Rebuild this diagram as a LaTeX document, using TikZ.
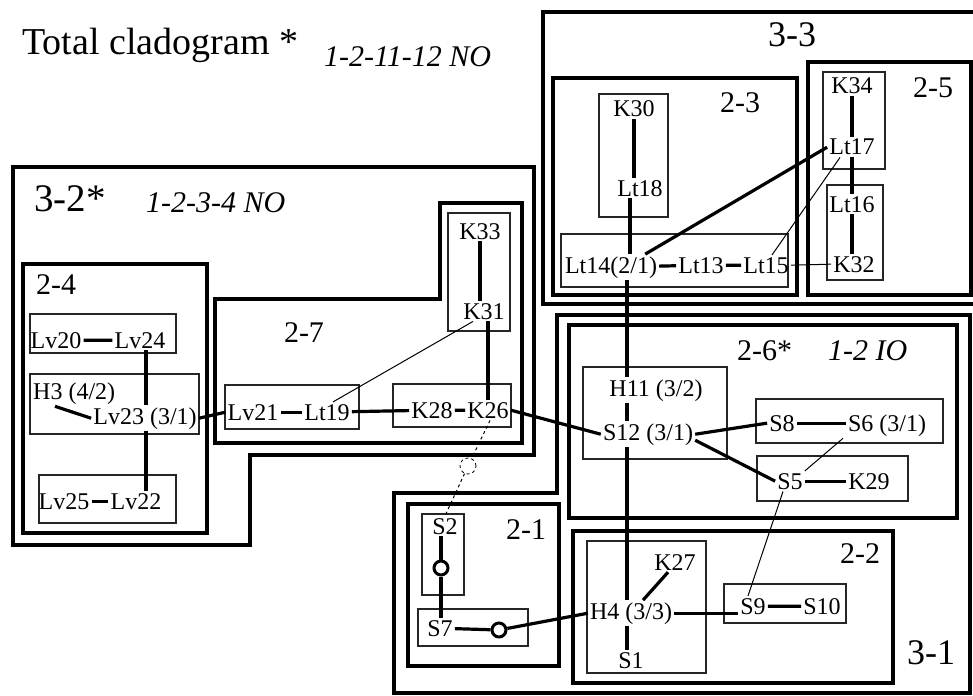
\documentclass[tikz,border=0pt]{standalone}
\usepackage{fontspec}
\setmainfont{Liberation Serif}

\begin{document}
\begin{tikzpicture}[x=1pt, y=-1pt,
    taxon/.style={inner sep=2pt, anchor=base, font=\fontsize{24}{26}\selectfont},
    tag/.style={inner sep=0pt, anchor=base, font=\fontsize{30}{32}\selectfont},
    bigtag/.style={inner sep=0pt, anchor=base, font=\fontsize{36}{38}\selectfont},
    note/.style={inner sep=0pt, anchor=base west, font=\fontsize{30}{32}\selectfont\itshape},
    grp/.style={draw=black!85, line width=1.2pt},
    clade/.style={draw, line width=3.5pt, line join=miter},
    bond/.style={line width=3.2pt},
    link/.style={line width=1pt},
    ring/.style={circle, draw, line width=3pt, minimum size=14pt, inner sep=0pt},
]
    \useasboundingbox (0,0) rectangle (973,695);

    % title
    \node[inner sep=0pt, anchor=base west, font=\fontsize{38}{40}\selectfont] (title) at (22,55) {Total cladogram *};
    \node[note] (titlenote) at (324,67) {1-2-11-12 NO};

    % thick clade outlines
    \draw[clade] (976,12) -- (543,12) -- (543,304) -- (976,304);
    \draw[clade] (553,78) rectangle (797,295);
    \draw[clade] (808,62) rectangle (971,295);
    \draw[clade] (13,167) -- (534,167) -- (534,455) -- (250,455) -- (250,545) -- (13,545) -- cycle;
    \draw[clade] (23,264) rectangle (207,533);
    \draw[clade] (215,299) -- (440,299) -- (440,203) -- (522,203) -- (522,443) -- (215,443) -- cycle;
    \draw[clade] (557,315) -- (970,315) -- (970,693) -- (394,693) -- (394,493) -- (557,493) -- cycle;
    \draw[clade] (569,325) rectangle (957,518);
    \draw[clade] (408,504) rectangle (559,666);
    \draw[clade] (573,531) rectangle (893,683);

    % clade names
    \node[bigtag] (n33) at (792,47) {3-3};
    \node[tag] (n23) at (740,113) {2-3};
    \node[tag] (n25) at (933,98) {2-5};
    \node[bigtag, anchor=base west, font=\fontsize{39}{41}\selectfont] (n32) at (34,211) {3-2*};
    \node[note] (n32note) at (146,212) {1-2-3-4 NO};
    \node[tag, anchor=base west] (n24) at (36,294) {2-4};
    \node[tag] (n27) at (304,342) {2-7};
    \node[tag, anchor=base west] (n26) at (737,360) {2-6*};
    \node[note] (n26note) at (828,360) {1-2 IO};
    \node[tag] (n21) at (526,539) {2-1};
    \node[tag] (n22) at (860,563) {2-2};
    \node[bigtag] (n31) at (931,664) {3-1};

    % thin group boxes
    \draw[grp] (599,94) rectangle (668,217);
    \draw[grp] (561,234) rectangle (788,287);
    \draw[grp] (823,72) rectangle (885,169);
    \draw[grp] (827,185) rectangle (883,280);
    \draw[grp] (448,213) rectangle (510,331);
    \draw[grp] (30,314) rectangle (176,353);
    \draw[grp] (30,374) rectangle (199,434);
    \draw[grp] (39,475) rectangle (176,523);
    \draw[grp] (225,385) rectangle (359,429);
    \draw[grp] (393,384) rectangle (511,427);
    \draw[grp] (583,367) rectangle (727,459);
    \draw[grp] (756,399) rectangle (943,443);
    \draw[grp] (757,456) rectangle (908,501);
    \draw[grp] (422,514) rectangle (464,595);
    \draw[grp] (418,609) rectangle (528,646);
    \draw[grp] (587,541) rectangle (706,673);
    \draw[grp] (724,584) rectangle (846,623);

    % taxa, upper right
    \node[taxon] (k30) at (634,117) {K30};
    \node[taxon] (lt18) at (640,196) {Lt18};
    \node[taxon] (lt14) at (611,273) {Lt14(2/1)};
    \node[taxon] (lt13) at (701,273) {Lt13};
    \node[taxon] (lt15) at (766,273) {Lt15};
    \node[taxon] (k34) at (852,94) {K34};
    \node[taxon] (lt17) at (852,155) {Lt17};
    \node[taxon] (lt16) at (852,212) {Lt16};
    \node[taxon] (k32) at (854,272) {K32};

    % taxa, left
    \node[taxon] (lv20) at (56,348) {Lv20};
    \node[taxon] (lv24) at (140,348) {Lv24};
    \node[taxon, anchor=base west] (h3) at (31,399) {H3 (4/2)};
    \node[taxon] (lv23) at (145,424) {Lv23 (3/1)};
    \node[taxon] (lv25) at (64,509) {Lv25};
    \node[taxon] (lv22) at (136,509) {Lv22};
    \node[taxon] (lv21) at (253,420) {Lv21};
    \node[taxon] (lt19) at (327,420) {Lt19};
    \node[taxon] (k28) at (432,418) {K28};
    \node[taxon] (k26) at (488,418) {K26};
    \node[taxon] (k33) at (480,239) {K33};
    \node[taxon] (k31) at (484,319) {K31};

    % taxa, lower right
    \node[taxon] (h11) at (656,396) {H11 (3/2)};
    \node[taxon] (s12) at (648,440) {S12 (3/1)};
    \node[taxon] (s8) at (782,431) {S8};
    \node[taxon] (s6) at (887,431) {S6 (3/1)};
    \node[taxon] (s5) at (790,489) {S5};
    \node[taxon] (k29) at (869,489) {K29};
    \node[taxon] (s2) at (445,534) {S2};
    \node[taxon] (s7) at (440,636) {S7};
    \node[taxon] (h4) at (631,619) {H4 (3/3)};
    \node[taxon] (k27) at (675,570) {K27};
    \node[taxon] (s1) at (631,668) {S1};
    \node[taxon] (s9) at (753,614) {S9};
    \node[taxon] (s10) at (822,614) {S10};

    % rings on the S2-S7 branch
    \node[ring] (c1) at (441,568) {};
    \node[ring] (c2) at (499,630) {};
    \node[circle, draw, dashed, line width=0.8pt, minimum size=16pt, inner sep=0pt] (cd) at (468,466) {};

    % bonds, upper right
    \draw[bond] (k30.south) -- (k30.south |- lt18.north);
    \draw[bond] ([xshift=-10]lt18.south) -- ([xshift=-10]lt18.south |- lt14.north);
    \draw[bond] (lt14) -- (lt13);
    \draw[bond] (lt13) -- (lt15);
    \draw[bond] ([xshift=-14]lt14.north east) -- (lt17.west);
    \draw[link] ([xshift=6]lt15.north) -- ([xshift=-12]lt17.south);
    \draw[link] (lt15.east) -- (k32.west);
    \draw[bond] (k34.south) -- (k34.south |- lt17.north);
    \draw[bond] (lt17.south) -- (lt16.north);
    \draw[bond] (lt16.south) -- (lt16.south |- k32.north);
    \draw[bond] ([xshift=16]lt14.south) -- ([xshift=16]lt14.south |- h11.north);

    % bonds, left
    \draw[bond] (lv20) -- (lv24);
    \draw[bond] ([xshift=6]lv24.south) -- ([xshift=6]lv24.south |- lv23.north);
    \draw[bond] ([xshift=24]h3.south west) -- (lv23.west);
    \draw[bond] ([xshift=1]lv23.south) -- ([xshift=1]lv23.south |- lv22.north);
    \draw[bond] (lv25) -- (lv22);
    \draw[bond] (lv23.east) -- (lv21.west);
    \draw[bond] (lv21) -- (lt19);
    \draw[bond] (lt19) -- (k28);
    \draw[bond] (k28) -- (k26);
    \draw[bond] (k33.south) -- (k33.south |- k31.north);
    \draw[bond] ([xshift=4]k31.south) -- ([xshift=4]k31.south |- k26.north);
    \draw[link] ([xshift=-11]k31.south) -- ([xshift=6]lt19.north);
    \draw[bond] (k26.east) -- (s12.west);
    \draw[link, dashed] ([xshift=2]k26.south) -- (cd);
    \draw[link, dashed] (cd) -- (s2.north);

    % bonds, lower right
    \draw[bond] ([xshift=-29]h11.south) -- ([xshift=-29]h11.south |- s12.north);
    \draw[bond] ([xshift=-21]s12.south) -- ([xshift=-21]s12.south |- h4.north);
    \draw[bond] (s12.east) -- (s8.west);
    \draw[bond] ([yshift=-6]s12.east) -- (s5.west);
    \draw[bond] (s8.east) -- (s8.east -| s6.west);
    \draw[link] ([xshift=-44]s6.south) -- (s5.north east);
    \draw[bond] (s5) -- (k29);
    \draw[link] ([xshift=-7]s5.south) -- ([xshift=-5]s9.north);
    \draw[bond] ([xshift=12]h4.north) -- ([xshift=-7]k27.south);
    \draw[bond] ([xshift=-4]h4.south) -- ([xshift=-4]h4.south |- s1.north);
    \draw[bond] (h4.east) -- (h4.east -| s9.west);
    \draw[bond] (s9) -- (s10);
    \draw[bond] (c1 |- s2.south) -- (c1);
    \draw[bond] (c1) -- (c1 |- s7.north);
    \draw[bond] (s7) -- (c2);
    \draw[bond] (c2) -- (h4.west);
\end{tikzpicture}
\end{document}
